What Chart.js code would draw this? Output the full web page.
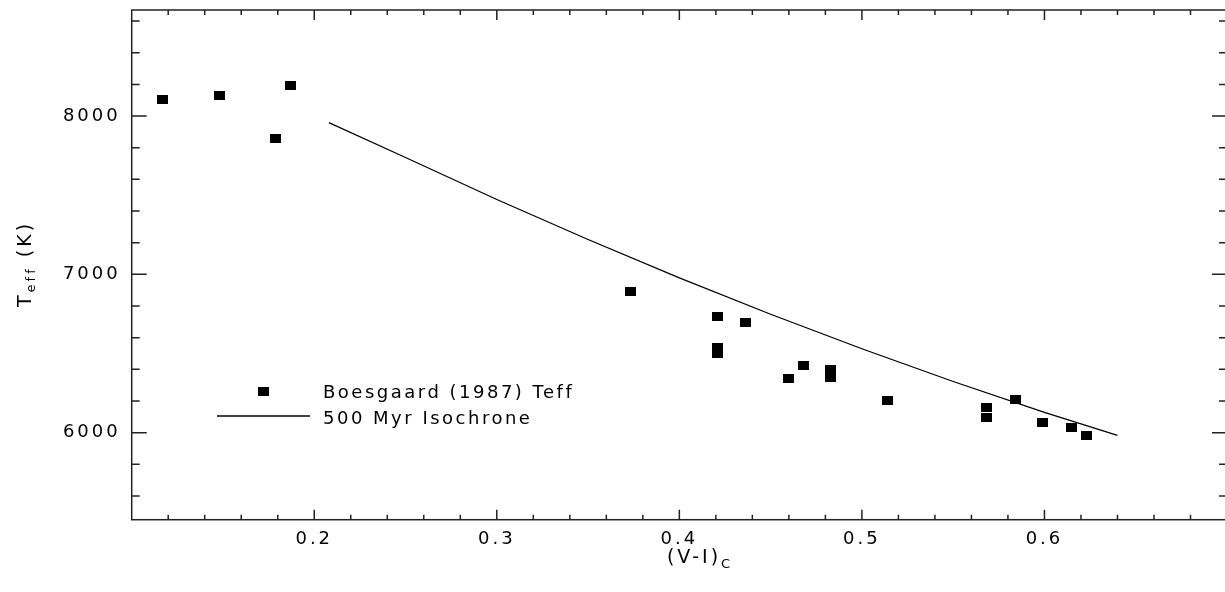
<!DOCTYPE html>
<html>
<head>
<meta charset="utf-8">
<script src="https://cdn.jsdelivr.net/npm/chart.js@4/dist/chart.umd.min.js"></script>
<style>
  html, body { margin: 0; padding: 0; background: #fff; overflow: hidden; }
</style>
</head>
<body>
<canvas id="teffChart" width="1230" height="592"></canvas>
<script>
// Boesgaard (1987) Teff
const starVI = [0.117, 0.148, 0.187, 0.179, 0.373, 0.421, 0.436, 0.421, 0.421, 0.460, 0.468, 0.483, 0.483, 0.514, 0.568, 0.568, 0.584, 0.599, 0.615, 0.623];
const starTeff = [8103, 8128, 8196, 7861, 6889, 6733, 6695, 6536, 6498, 6342, 6421, 6399, 6347, 6200, 6161, 6094, 6211, 6063, 6032, 5981];

// 500 Myr isochrone
const isoVI = [0.208, 0.25, 0.30, 0.35, 0.40, 0.45, 0.50, 0.55, 0.60, 0.64];
const isoTeff = [7958, 7738, 7473, 7220, 6978, 6748, 6530, 6323, 6128, 5982];

const xLabels = [0.2, 0.3, 0.4, 0.5, 0.6];
const yLabels = [6000, 7000, 8000];

const FONT = '"DejaVu Sans", sans-serif';

// filled box used as the marker
const box = document.createElement('canvas');
box.width = 11;
box.height = 9;
const bctx = box.getContext('2d');
bctx.fillStyle = '#000';
bctx.fillRect(0, 0, 11, 9);

function noPadding(s) {
    s.paddingTop = 0;
    s.paddingBottom = 0;
    s.paddingLeft = 0;
    s.paddingRight = 0;
}

// frame + inward ticks like the IDL plot
const framePlugin = {
    id: 'frame',
    beforeDraw(chart) {
        chart.ctx.letterSpacing = '3px';
    },
    afterDatasetsDraw(chart) {
        const ctx = chart.ctx;
        const a = chart.chartArea;
        const xs = chart.scales.x;
        const ys = chart.scales.y;
        ctx.save();
        ctx.strokeStyle = '#222';
        ctx.lineWidth = 1.5;
        ctx.strokeRect(a.left, a.top, a.right - a.left, a.bottom - a.top);
        ctx.beginPath();
        for (let i = 6; i <= 34; i++) {
            const v = i / 50;
            const px = xs.getPixelForValue(v);
            const len = i % 5 === 0 ? 10 : 5;
            ctx.moveTo(px, a.bottom); ctx.lineTo(px, a.bottom - len);
            ctx.moveTo(px, a.top); ctx.lineTo(px, a.top + len);
        }
        for (let v = 5600; v <= 8600; v += 200) {
            const py = ys.getPixelForValue(v);
            const len = v % 1000 === 0 ? 15 : 8;
            ctx.moveTo(a.left, py); ctx.lineTo(a.left + len, py);
            ctx.moveTo(a.right, py); ctx.lineTo(a.right - len, py);
        }
        ctx.stroke();
        ctx.restore();
    },
    afterDraw(chart) {
        const ctx = chart.ctx;
        const ds = chart.data.datasets;
        ctx.save();
        ctx.fillStyle = '#000';
        ctx.strokeStyle = '#000';
        ctx.textBaseline = 'alphabetic';
        ctx.letterSpacing = '2.5px';

        // legend
        ctx.font = '18px ' + FONT;
        ctx.drawImage(box, 263 - 5.5, 391.5 - 4.5);
        ctx.fillText(ds[0].label, 323, 398);
        ctx.beginPath();
        ctx.lineWidth = 1.5;
        ctx.moveTo(217, 416);
        ctx.lineTo(310, 416);
        ctx.stroke();
        ctx.fillText(ds[1].label, 323, 424);

        // x title: (V-I)_C
        ctx.letterSpacing = '3px';
        ctx.font = '19px ' + FONT;
        const w1 = ctx.measureText('(V-I)').width;
        ctx.font = '13px ' + FONT;
        const w2 = ctx.measureText('C').width;
        let x0 = 700 - (w1 + w2) / 2;
        ctx.font = '19px ' + FONT;
        ctx.fillText('(V-I)', x0, 563);
        ctx.font = '13px ' + FONT;
        ctx.fillText('C', x0 + w1, 568);

        // y title: T_eff (K)
        ctx.translate(31, 264);
        ctx.rotate(-Math.PI / 2);
        ctx.font = '19px ' + FONT;
        const t1 = ctx.measureText('T').width;
        const t3 = ctx.measureText(' (K)').width;
        ctx.font = '13px ' + FONT;
        const t2 = ctx.measureText('eff').width;
        x0 = -(t1 + t2 + t3) / 2;
        ctx.font = '19px ' + FONT;
        ctx.fillText('T', x0, 0);
        ctx.font = '13px ' + FONT;
        ctx.fillText('eff', x0 + t1, 4);
        ctx.font = '19px ' + FONT;
        ctx.fillText(' (K)', x0 + t1 + t2, 0);
        ctx.restore();
    }
};

new Chart(document.getElementById('teffChart'), {
    type: 'scatter',
    data: {
        datasets: [
            {
                label: 'Boesgaard (1987) Teff',
                data: starVI.map((v, i) => ({ x: v, y: starTeff[i] })),
                pointStyle: box,
                pointRadius: 6,
                borderWidth: 0
            },
            {
                label: '500 Myr Isochrone',
                data: isoVI.map((v, i) => ({ x: v, y: isoTeff[i] })),
                showLine: true,
                borderColor: '#000',
                borderWidth: 1.3,
                pointRadius: 0,
                tension: 0
            }
        ]
    },
    options: {
        responsive: false,
        animation: false,
        devicePixelRatio: 1,
        layout: {
            autoPadding: false,
            padding: { top: 10, right: 3, left: 0, bottom: 0 }
        },
        scales: {
            x: {
                type: 'linear',
                min: 0.1,
                max: 0.7,
                grid: { display: false, drawTicks: false },
                border: { display: false },
                afterBuildTicks: (s) => { s.ticks = xLabels.map(v => ({ value: v })); },
                afterFit: (s) => { s.height = 72.3; noPadding(s); },
                ticks: {
                    color: '#000',
                    padding: 9,
                    font: { family: FONT, size: 18 },
                    callback: (v) => v.toFixed(1)
                }
            },
            y: {
                type: 'linear',
                min: 5450,
                max: 8670,
                grid: { display: false, drawTicks: false },
                border: { display: false },
                afterBuildTicks: (s) => { s.ticks = yLabels.map(v => ({ value: v })); },
                afterFit: (s) => { s.width = 131.7; noPadding(s); },
                ticks: {
                    color: '#000',
                    padding: 11,
                    font: { family: FONT, size: 18 },
                    callback: (v) => String(v)
                }
            }
        },
        plugins: {
            legend: { display: false },
            tooltip: { enabled: false }
        }
    },
    plugins: [framePlugin]
});
</script>
</body>
</html>
